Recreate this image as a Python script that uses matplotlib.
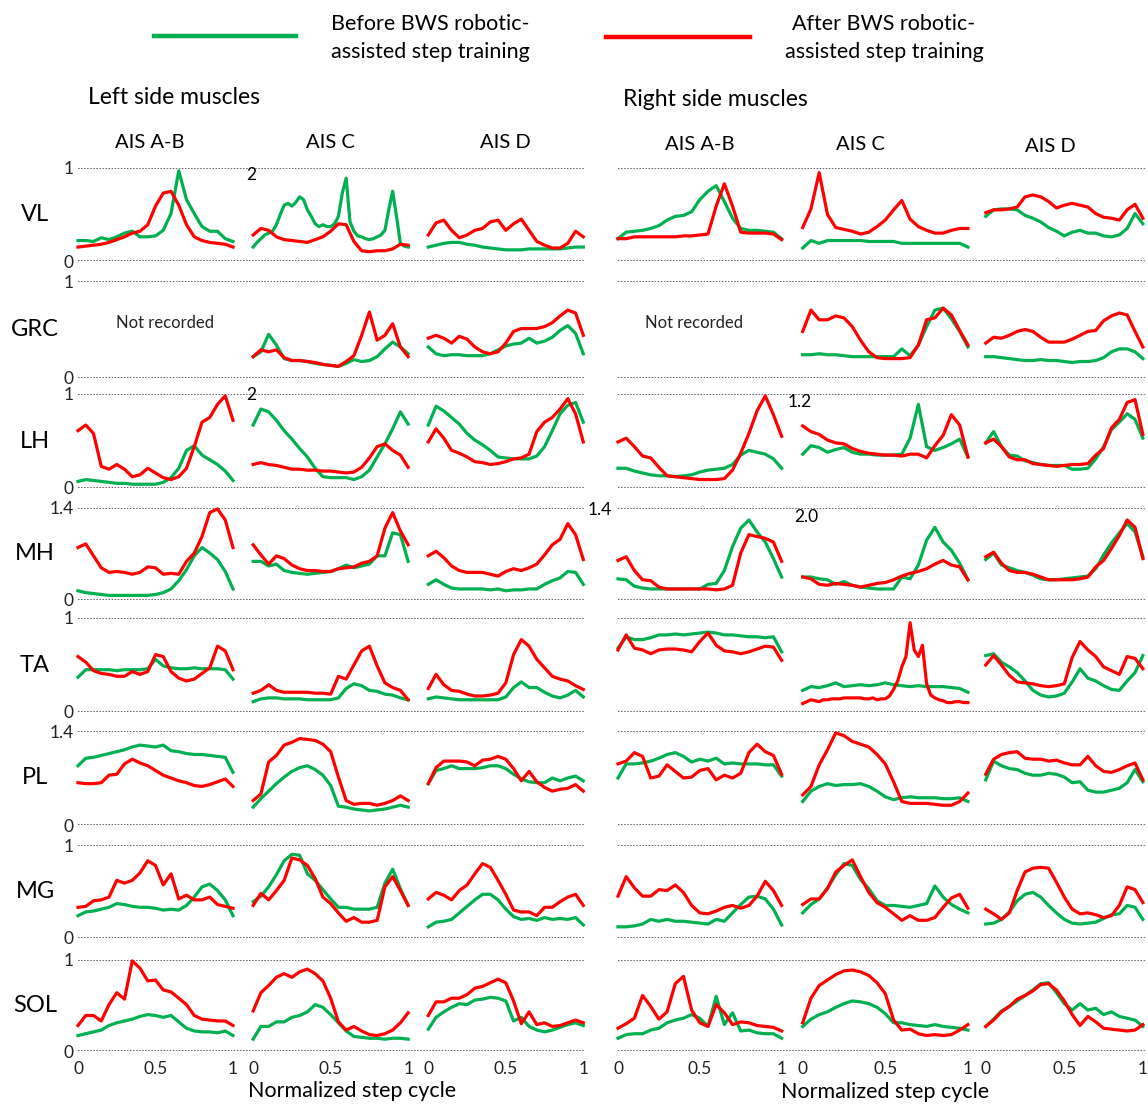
import numpy as np
import matplotlib.pyplot as plt
from matplotlib.lines import Line2D

plt.rcParams['font.family'] = ['Lato', 'DejaVu Sans']

# normalized EMG envelopes, fraction of each row's full scale (0 = lower dotted line, 1 = upper)
# order of the six curves: left AIS A-B, AIS C, AIS D, right AIS A-B, AIS C, AIS D
muscles = ['VL', 'GRC', 'LH', 'MH', 'TA', 'PL', 'MG', 'SOL']
groups = ['AIS A-B', 'AIS C', 'AIS D']
left_scale = ['1', '1', '1', '1.4', '1', '1.4', '1', '1']
step_ticks = [0, 0.5, 1]
step_ticklabels = ['0', '0.5', '1']

VL_before = [
    [0.22, 0.22, 0.21, 0.25, 0.23, 0.26, 0.30, 0.32, 0.26, 0.26, 0.27, 0.33, 0.51, 0.97, 0.66, 0.51, 0.37, 0.32, 0.32, 0.24, 0.21],
    [0.15, 0.20, 0.24, 0.28, 0.30, 0.32, 0.39, 0.50, 0.60, 0.62, 0.59, 0.63, 0.69, 0.66, 0.55, 0.48, 0.40, 0.37, 0.39, 0.37, 0.37,
     0.40, 0.48, 0.73, 0.89, 0.42, 0.32, 0.27, 0.26, 0.24, 0.23, 0.24, 0.26, 0.28, 0.33, 0.55, 0.75, 0.48, 0.19, 0.16, 0.15],
    [0.15, 0.17, 0.19, 0.20, 0.20, 0.18, 0.17, 0.15, 0.14, 0.13, 0.12, 0.12, 0.12, 0.13, 0.13, 0.13, 0.13, 0.13, 0.14, 0.15, 0.15],
    [0.24, 0.31, 0.32, 0.33, 0.35, 0.38, 0.44, 0.48, 0.49, 0.53, 0.66, 0.75, 0.81, 0.64, 0.46, 0.35, 0.33, 0.33, 0.32, 0.31, 0.24],
    [0.14, 0.22, 0.19, 0.22, 0.22, 0.22, 0.22, 0.22, 0.21, 0.21, 0.21, 0.21, 0.19, 0.19, 0.19, 0.19, 0.19, 0.19, 0.19, 0.19, 0.15],
    [0.48, 0.55, 0.56, 0.56, 0.55, 0.49, 0.46, 0.42, 0.36, 0.32, 0.27, 0.31, 0.33, 0.30, 0.30, 0.27, 0.26, 0.28, 0.35, 0.51, 0.40],
]
VL_after = [
    [0.15, 0.16, 0.17, 0.18, 0.20, 0.23, 0.26, 0.30, 0.32, 0.39, 0.59, 0.73, 0.75, 0.60, 0.39, 0.26, 0.22, 0.20, 0.19, 0.18, 0.15],
    [0.28, 0.35, 0.33, 0.26, 0.23, 0.22, 0.21, 0.20, 0.23, 0.26, 0.32, 0.40, 0.39, 0.21, 0.11, 0.10, 0.11, 0.11, 0.13, 0.18, 0.17],
    [0.28, 0.41, 0.44, 0.33, 0.25, 0.28, 0.33, 0.35, 0.42, 0.44, 0.33, 0.40, 0.45, 0.33, 0.21, 0.17, 0.14, 0.14, 0.19, 0.32, 0.26],
    [0.24, 0.24, 0.26, 0.26, 0.26, 0.26, 0.26, 0.26, 0.27, 0.27, 0.28, 0.29, 0.59, 0.83, 0.59, 0.31, 0.30, 0.30, 0.30, 0.29, 0.23],
    [0.36, 0.56, 0.95, 0.50, 0.36, 0.34, 0.32, 0.29, 0.31, 0.37, 0.44, 0.55, 0.65, 0.45, 0.37, 0.33, 0.30, 0.30, 0.33, 0.35, 0.35],
    [0.52, 0.55, 0.55, 0.56, 0.58, 0.69, 0.71, 0.69, 0.64, 0.57, 0.60, 0.62, 0.60, 0.58, 0.51, 0.47, 0.46, 0.44, 0.55, 0.61, 0.46],
]

GRC_before = [
    None,
    [0.22, 0.27, 0.45, 0.34, 0.20, 0.18, 0.18, 0.17, 0.15, 0.14, 0.13, 0.12, 0.15, 0.19, 0.17, 0.18, 0.22, 0.30, 0.37, 0.32, 0.25],
    [0.32, 0.25, 0.23, 0.24, 0.24, 0.23, 0.23, 0.23, 0.25, 0.29, 0.33, 0.35, 0.36, 0.41, 0.36, 0.38, 0.42, 0.49, 0.54, 0.46, 0.25],
    None,
    [0.24, 0.24, 0.25, 0.24, 0.24, 0.23, 0.22, 0.22, 0.22, 0.22, 0.22, 0.22, 0.30, 0.23, 0.34, 0.53, 0.70, 0.72, 0.61, 0.48, 0.32],
    [0.22, 0.22, 0.21, 0.20, 0.19, 0.18, 0.18, 0.19, 0.18, 0.18, 0.17, 0.16, 0.17, 0.17, 0.18, 0.21, 0.27, 0.30, 0.30, 0.27, 0.20],
]
GRC_after = [
    None,
    [0.22, 0.29, 0.27, 0.29, 0.21, 0.18, 0.18, 0.17, 0.16, 0.14, 0.13, 0.12, 0.17, 0.23, 0.44, 0.68, 0.39, 0.44, 0.56, 0.32, 0.22],
    [0.41, 0.44, 0.41, 0.36, 0.43, 0.40, 0.32, 0.27, 0.25, 0.27, 0.36, 0.48, 0.51, 0.51, 0.51, 0.53, 0.57, 0.64, 0.70, 0.67, 0.44],
    None,
    [0.48, 0.70, 0.60, 0.60, 0.64, 0.62, 0.53, 0.39, 0.27, 0.21, 0.20, 0.20, 0.20, 0.21, 0.34, 0.60, 0.62, 0.72, 0.65, 0.49, 0.34],
    [0.36, 0.42, 0.41, 0.44, 0.48, 0.50, 0.48, 0.42, 0.37, 0.37, 0.37, 0.40, 0.44, 0.48, 0.49, 0.59, 0.64, 0.67, 0.65, 0.48, 0.32],
]

LH_before = [
    [0.07, 0.09, 0.08, 0.07, 0.06, 0.05, 0.05, 0.04, 0.04, 0.04, 0.04, 0.06, 0.11, 0.21, 0.40, 0.45, 0.35, 0.30, 0.25, 0.18, 0.08],
    [0.67, 0.84, 0.81, 0.72, 0.61, 0.52, 0.42, 0.33, 0.21, 0.12, 0.11, 0.11, 0.11, 0.09, 0.12, 0.19, 0.33, 0.47, 0.63, 0.81, 0.68],
    [0.67, 0.87, 0.82, 0.75, 0.68, 0.58, 0.51, 0.46, 0.40, 0.33, 0.32, 0.31, 0.31, 0.31, 0.34, 0.44, 0.61, 0.79, 0.88, 0.91, 0.70],
    [0.21, 0.21, 0.18, 0.16, 0.14, 0.13, 0.13, 0.12, 0.13, 0.14, 0.17, 0.19, 0.20, 0.21, 0.25, 0.35, 0.40, 0.38, 0.36, 0.31, 0.21],
    [0.36, 0.45, 0.43, 0.38, 0.41, 0.43, 0.38, 0.36, 0.36, 0.35, 0.35, 0.35, 0.36, 0.53, 0.89, 0.44, 0.40, 0.43, 0.47, 0.52, 0.33],
    [0.48, 0.60, 0.44, 0.35, 0.34, 0.29, 0.27, 0.25, 0.24, 0.24, 0.24, 0.20, 0.20, 0.21, 0.31, 0.44, 0.62, 0.70, 0.79, 0.73, 0.53],
]
LH_after = [
    [0.61, 0.67, 0.58, 0.23, 0.20, 0.25, 0.20, 0.12, 0.14, 0.21, 0.16, 0.11, 0.09, 0.12, 0.21, 0.44, 0.70, 0.75, 0.89, 0.98, 0.72],
    [0.25, 0.27, 0.25, 0.24, 0.22, 0.20, 0.20, 0.19, 0.19, 0.18, 0.18, 0.17, 0.16, 0.17, 0.22, 0.32, 0.44, 0.47, 0.40, 0.35, 0.22],
    [0.49, 0.63, 0.53, 0.40, 0.37, 0.33, 0.28, 0.27, 0.25, 0.26, 0.28, 0.31, 0.32, 0.36, 0.60, 0.70, 0.75, 0.84, 0.95, 0.79, 0.49],
    [0.49, 0.53, 0.44, 0.34, 0.32, 0.22, 0.13, 0.12, 0.11, 0.10, 0.09, 0.09, 0.09, 0.10, 0.19, 0.37, 0.58, 0.82, 0.98, 0.78, 0.55],
    [0.66, 0.60, 0.57, 0.51, 0.48, 0.47, 0.42, 0.39, 0.37, 0.36, 0.35, 0.35, 0.34, 0.36, 0.36, 0.32, 0.45, 0.56, 0.78, 0.67, 0.33],
    [0.48, 0.52, 0.44, 0.33, 0.30, 0.30, 0.26, 0.25, 0.24, 0.23, 0.24, 0.25, 0.25, 0.26, 0.35, 0.42, 0.64, 0.73, 0.91, 0.94, 0.57],
]

MH_before = [
    [0.10, 0.08, 0.07, 0.06, 0.05, 0.05, 0.05, 0.05, 0.05, 0.05, 0.06, 0.08, 0.12, 0.21, 0.33, 0.48, 0.57, 0.51, 0.44, 0.31, 0.12],
    [0.42, 0.42, 0.37, 0.39, 0.32, 0.30, 0.29, 0.28, 0.29, 0.30, 0.31, 0.34, 0.38, 0.35, 0.37, 0.39, 0.48, 0.48, 0.73, 0.71, 0.42],
    [0.17, 0.22, 0.17, 0.13, 0.12, 0.12, 0.12, 0.12, 0.11, 0.12, 0.10, 0.11, 0.11, 0.12, 0.12, 0.17, 0.21, 0.24, 0.31, 0.30, 0.17],
    [0.23, 0.22, 0.15, 0.13, 0.12, 0.12, 0.12, 0.12, 0.12, 0.12, 0.12, 0.17, 0.18, 0.32, 0.58, 0.78, 0.87, 0.74, 0.63, 0.45, 0.25],
    [0.25, 0.25, 0.23, 0.22, 0.17, 0.20, 0.16, 0.14, 0.13, 0.12, 0.12, 0.12, 0.25, 0.23, 0.38, 0.65, 0.79, 0.63, 0.54, 0.40, 0.22],
    [0.44, 0.51, 0.38, 0.35, 0.32, 0.30, 0.27, 0.23, 0.22, 0.22, 0.23, 0.24, 0.25, 0.26, 0.34, 0.49, 0.62, 0.73, 0.83, 0.74, 0.47],
]
MH_after = [
    [0.57, 0.61, 0.48, 0.35, 0.30, 0.31, 0.30, 0.28, 0.30, 0.36, 0.35, 0.28, 0.29, 0.28, 0.42, 0.51, 0.69, 0.95, 0.99, 0.87, 0.57],
    [0.60, 0.49, 0.39, 0.48, 0.45, 0.38, 0.34, 0.32, 0.32, 0.31, 0.31, 0.34, 0.35, 0.36, 0.40, 0.42, 0.48, 0.78, 0.95, 0.75, 0.60],
    [0.48, 0.53, 0.46, 0.37, 0.32, 0.30, 0.30, 0.30, 0.28, 0.26, 0.31, 0.34, 0.32, 0.35, 0.39, 0.49, 0.60, 0.66, 0.83, 0.71, 0.44],
    [0.43, 0.47, 0.32, 0.22, 0.21, 0.14, 0.12, 0.12, 0.12, 0.12, 0.12, 0.12, 0.11, 0.12, 0.16, 0.51, 0.71, 0.69, 0.67, 0.63, 0.42],
    [0.25, 0.23, 0.17, 0.16, 0.18, 0.17, 0.16, 0.14, 0.16, 0.18, 0.19, 0.22, 0.26, 0.29, 0.31, 0.34, 0.39, 0.43, 0.38, 0.36, 0.22],
    [0.47, 0.52, 0.40, 0.32, 0.30, 0.30, 0.28, 0.25, 0.22, 0.22, 0.22, 0.22, 0.23, 0.25, 0.36, 0.43, 0.56, 0.70, 0.87, 0.79, 0.45],
]

TA_before = [
    [0.37, 0.45, 0.45, 0.45, 0.45, 0.44, 0.45, 0.45, 0.45, 0.46, 0.56, 0.49, 0.47, 0.46, 0.46, 0.47, 0.46, 0.46, 0.46, 0.45, 0.35],
    [0.11, 0.14, 0.15, 0.15, 0.14, 0.14, 0.14, 0.13, 0.13, 0.13, 0.13, 0.15, 0.25, 0.30, 0.28, 0.23, 0.22, 0.19, 0.18, 0.15, 0.13],
    [0.14, 0.16, 0.15, 0.14, 0.13, 0.13, 0.13, 0.13, 0.13, 0.13, 0.16, 0.26, 0.32, 0.26, 0.26, 0.21, 0.17, 0.15, 0.18, 0.23, 0.16],
    [0.68, 0.80, 0.77, 0.77, 0.79, 0.82, 0.82, 0.83, 0.82, 0.83, 0.84, 0.85, 0.84, 0.82, 0.82, 0.81, 0.80, 0.80, 0.79, 0.80, 0.64],
    [0.23, 0.27, 0.26, 0.28, 0.31, 0.27, 0.28, 0.29, 0.28, 0.29, 0.31, 0.29, 0.28, 0.27, 0.28, 0.27, 0.27, 0.27, 0.26, 0.25, 0.21],
    [0.60, 0.62, 0.53, 0.48, 0.42, 0.33, 0.23, 0.18, 0.16, 0.17, 0.20, 0.32, 0.46, 0.36, 0.33, 0.28, 0.24, 0.23, 0.33, 0.42, 0.60],
]
TA_after = [
    [0.59, 0.53, 0.44, 0.41, 0.40, 0.38, 0.38, 0.43, 0.40, 0.43, 0.61, 0.59, 0.43, 0.36, 0.33, 0.35, 0.41, 0.47, 0.70, 0.65, 0.45],
    [0.20, 0.23, 0.29, 0.23, 0.21, 0.21, 0.21, 0.21, 0.20, 0.20, 0.19, 0.38, 0.35, 0.50, 0.65, 0.70, 0.49, 0.31, 0.26, 0.23, 0.13],
    [0.25, 0.40, 0.29, 0.23, 0.22, 0.19, 0.17, 0.17, 0.18, 0.20, 0.31, 0.61, 0.77, 0.70, 0.56, 0.47, 0.38, 0.35, 0.33, 0.28, 0.24],
    [0.66, 0.82, 0.68, 0.66, 0.62, 0.66, 0.67, 0.67, 0.66, 0.64, 0.75, 0.84, 0.71, 0.65, 0.64, 0.62, 0.64, 0.67, 0.70, 0.69, 0.55],
    [0.09, 0.11, 0.13, 0.12, 0.11, 0.13, 0.13, 0.14, 0.14, 0.14, 0.15, 0.15, 0.15, 0.15, 0.15, 0.14, 0.14, 0.15, 0.13, 0.14, 0.14,
     0.17, 0.24, 0.33, 0.48, 0.59, 0.95, 0.66, 0.59, 0.71, 0.30, 0.18, 0.15, 0.13, 0.12, 0.10, 0.10, 0.11, 0.11, 0.10, 0.10],
    [0.50, 0.60, 0.50, 0.39, 0.32, 0.31, 0.30, 0.28, 0.27, 0.28, 0.30, 0.58, 0.75, 0.66, 0.59, 0.48, 0.44, 0.40, 0.59, 0.57, 0.46],
]

PL_before = [
    [0.63, 0.71, 0.72, 0.74, 0.76, 0.78, 0.80, 0.83, 0.85, 0.84, 0.83, 0.85, 0.79, 0.78, 0.76, 0.75, 0.75, 0.74, 0.73, 0.72, 0.56],
    [0.19, 0.28, 0.36, 0.44, 0.51, 0.57, 0.61, 0.63, 0.59, 0.53, 0.42, 0.20, 0.19, 0.17, 0.16, 0.15, 0.16, 0.17, 0.19, 0.21, 0.19],
    [0.44, 0.58, 0.60, 0.63, 0.60, 0.60, 0.60, 0.61, 0.63, 0.63, 0.60, 0.54, 0.49, 0.46, 0.45, 0.45, 0.50, 0.47, 0.50, 0.52, 0.47],
    [0.50, 0.65, 0.65, 0.66, 0.68, 0.71, 0.75, 0.77, 0.73, 0.67, 0.70, 0.68, 0.71, 0.65, 0.66, 0.65, 0.65, 0.65, 0.64, 0.64, 0.52],
    [0.25, 0.36, 0.41, 0.44, 0.42, 0.43, 0.43, 0.44, 0.41, 0.36, 0.30, 0.27, 0.29, 0.30, 0.29, 0.29, 0.29, 0.28, 0.28, 0.29, 0.25],
    [0.48, 0.68, 0.63, 0.60, 0.59, 0.55, 0.53, 0.53, 0.55, 0.54, 0.51, 0.45, 0.46, 0.37, 0.35, 0.35, 0.37, 0.39, 0.45, 0.59, 0.46],
]
PL_after = [
    [0.45, 0.44, 0.44, 0.45, 0.53, 0.54, 0.65, 0.70, 0.66, 0.63, 0.58, 0.53, 0.50, 0.47, 0.45, 0.42, 0.41, 0.43, 0.46, 0.49, 0.41],
    [0.26, 0.33, 0.67, 0.74, 0.85, 0.88, 0.92, 0.91, 0.90, 0.86, 0.78, 0.51, 0.26, 0.22, 0.23, 0.23, 0.21, 0.23, 0.26, 0.31, 0.26],
    [0.44, 0.61, 0.68, 0.68, 0.68, 0.67, 0.63, 0.69, 0.70, 0.73, 0.70, 0.60, 0.47, 0.57, 0.46, 0.40, 0.36, 0.38, 0.39, 0.43, 0.36],
    [0.65, 0.68, 0.77, 0.73, 0.50, 0.52, 0.64, 0.57, 0.50, 0.51, 0.58, 0.60, 0.48, 0.53, 0.50, 0.55, 0.77, 0.86, 0.78, 0.74, 0.54],
    [0.32, 0.41, 0.64, 0.80, 0.98, 0.95, 0.89, 0.86, 0.83, 0.75, 0.65, 0.46, 0.25, 0.23, 0.23, 0.23, 0.22, 0.21, 0.21, 0.25, 0.34],
    [0.54, 0.70, 0.75, 0.77, 0.78, 0.71, 0.70, 0.70, 0.68, 0.69, 0.66, 0.64, 0.64, 0.73, 0.63, 0.57, 0.56, 0.59, 0.63, 0.66, 0.48],
]

MG_before = [
    [0.24, 0.28, 0.29, 0.31, 0.33, 0.37, 0.36, 0.34, 0.33, 0.33, 0.32, 0.30, 0.31, 0.30, 0.35, 0.44, 0.55, 0.58, 0.51, 0.41, 0.24],
    [0.39, 0.45, 0.55, 0.68, 0.83, 0.90, 0.89, 0.69, 0.62, 0.52, 0.42, 0.33, 0.33, 0.31, 0.31, 0.31, 0.33, 0.59, 0.74, 0.53, 0.35],
    [0.12, 0.17, 0.18, 0.20, 0.27, 0.34, 0.41, 0.47, 0.47, 0.41, 0.31, 0.23, 0.20, 0.21, 0.19, 0.22, 0.20, 0.21, 0.20, 0.22, 0.14],
    [0.12, 0.12, 0.13, 0.15, 0.20, 0.18, 0.20, 0.18, 0.18, 0.17, 0.16, 0.15, 0.20, 0.18, 0.27, 0.36, 0.44, 0.45, 0.42, 0.31, 0.14],
    [0.27, 0.36, 0.42, 0.54, 0.68, 0.80, 0.78, 0.63, 0.53, 0.40, 0.35, 0.35, 0.34, 0.33, 0.35, 0.37, 0.56, 0.44, 0.36, 0.31, 0.27],
    [0.15, 0.16, 0.20, 0.28, 0.40, 0.47, 0.49, 0.44, 0.35, 0.27, 0.20, 0.16, 0.15, 0.16, 0.17, 0.21, 0.25, 0.26, 0.35, 0.33, 0.20],
]
MG_after = [
    [0.33, 0.34, 0.40, 0.41, 0.44, 0.62, 0.59, 0.62, 0.70, 0.83, 0.78, 0.57, 0.69, 0.42, 0.46, 0.41, 0.41, 0.44, 0.36, 0.34, 0.32],
    [0.35, 0.48, 0.41, 0.51, 0.62, 0.86, 0.84, 0.78, 0.64, 0.44, 0.37, 0.27, 0.18, 0.22, 0.17, 0.17, 0.19, 0.55, 0.66, 0.51, 0.35],
    [0.42, 0.49, 0.46, 0.41, 0.51, 0.57, 0.69, 0.80, 0.76, 0.62, 0.47, 0.30, 0.28, 0.28, 0.24, 0.33, 0.33, 0.39, 0.44, 0.47, 0.35],
    [0.45, 0.66, 0.54, 0.45, 0.45, 0.52, 0.51, 0.57, 0.49, 0.35, 0.27, 0.26, 0.29, 0.33, 0.35, 0.32, 0.35, 0.45, 0.61, 0.51, 0.35],
    [0.36, 0.42, 0.42, 0.53, 0.71, 0.78, 0.84, 0.66, 0.49, 0.38, 0.33, 0.26, 0.19, 0.24, 0.19, 0.19, 0.22, 0.33, 0.43, 0.47, 0.32],
    [0.31, 0.26, 0.20, 0.27, 0.51, 0.71, 0.75, 0.76, 0.75, 0.60, 0.44, 0.31, 0.26, 0.27, 0.25, 0.22, 0.24, 0.35, 0.55, 0.52, 0.38],
]

SOL_before = [
    [0.17, 0.19, 0.21, 0.23, 0.28, 0.31, 0.33, 0.35, 0.38, 0.40, 0.39, 0.37, 0.39, 0.32, 0.25, 0.22, 0.21, 0.21, 0.20, 0.22, 0.17],
    [0.13, 0.27, 0.27, 0.32, 0.32, 0.37, 0.39, 0.43, 0.51, 0.48, 0.40, 0.31, 0.22, 0.16, 0.15, 0.14, 0.14, 0.13, 0.14, 0.14, 0.13],
    [0.24, 0.37, 0.43, 0.48, 0.52, 0.51, 0.56, 0.57, 0.59, 0.58, 0.55, 0.33, 0.37, 0.27, 0.23, 0.21, 0.23, 0.26, 0.29, 0.31, 0.28],
    [0.14, 0.18, 0.19, 0.19, 0.23, 0.25, 0.31, 0.34, 0.36, 0.40, 0.36, 0.27, 0.60, 0.29, 0.42, 0.22, 0.23, 0.20, 0.19, 0.19, 0.14],
    [0.27, 0.35, 0.40, 0.43, 0.48, 0.52, 0.55, 0.54, 0.52, 0.48, 0.41, 0.31, 0.31, 0.29, 0.28, 0.27, 0.29, 0.27, 0.26, 0.25, 0.23],
    [0.27, 0.35, 0.44, 0.49, 0.55, 0.61, 0.67, 0.74, 0.75, 0.64, 0.52, 0.45, 0.52, 0.45, 0.47, 0.40, 0.43, 0.38, 0.36, 0.34, 0.27],
]
SOL_after = [
    [0.28, 0.39, 0.39, 0.33, 0.51, 0.64, 0.57, 0.99, 0.91, 0.77, 0.78, 0.67, 0.65, 0.58, 0.51, 0.39, 0.35, 0.34, 0.33, 0.33, 0.28],
    [0.44, 0.64, 0.72, 0.81, 0.85, 0.81, 0.87, 0.90, 0.85, 0.77, 0.58, 0.32, 0.23, 0.27, 0.22, 0.18, 0.17, 0.19, 0.23, 0.31, 0.42],
    [0.39, 0.54, 0.54, 0.58, 0.58, 0.62, 0.69, 0.71, 0.75, 0.79, 0.75, 0.55, 0.30, 0.43, 0.29, 0.31, 0.27, 0.28, 0.31, 0.34, 0.31],
    [0.25, 0.30, 0.36, 0.61, 0.49, 0.35, 0.43, 0.74, 0.82, 0.45, 0.31, 0.27, 0.51, 0.42, 0.29, 0.32, 0.31, 0.28, 0.27, 0.26, 0.22],
    [0.31, 0.58, 0.72, 0.78, 0.84, 0.88, 0.89, 0.87, 0.83, 0.75, 0.63, 0.34, 0.23, 0.24, 0.19, 0.17, 0.18, 0.17, 0.18, 0.23, 0.29],
    [0.27, 0.34, 0.43, 0.49, 0.57, 0.61, 0.66, 0.73, 0.74, 0.67, 0.55, 0.40, 0.28, 0.38, 0.32, 0.25, 0.24, 0.23, 0.22, 0.23, 0.29],
]

before = [VL_before, GRC_before, LH_before, MH_before, TA_before, PL_before, MG_before, SOL_before]
after = [VL_after, GRC_after, LH_after, MH_after, TA_after, PL_after, MG_after, SOL_after]

GREEN = '#00b050'
RED = '#ff0000'
DOT = '#3a3a3a'

W, H = 1148.0, 1105.0
fig = plt.figure(figsize=(W / 100, H / 100), dpi=100)

# layout in pixels
row_top = [168, 281, 394, 508, 618, 731, 845, 960]
row_bot = [261, 378, 488, 600, 712, 825, 938, 1051]
sides = [
    dict(x0=78, unit=155, offs=[0, 1.13, 2.26], widths=[1.0, 1.0, 1.0], xmax=3.27),
    dict(x0=618, unit=162, offs=[0, 1.14, 2.27], widths=[1.01, 1.02, 0.97], xmax=3.25),
]


def ftxt(x, y, s, **kw):
    fig.text(x / W, 1 - y / H, s, **kw)


axes = {}
for r, name in enumerate(muscles):
    for s, side in enumerate(sides):
        ax = fig.add_axes([side['x0'] / W, 1 - row_bot[r] / H,
                           side['xmax'] * side['unit'] / W, (row_bot[r] - row_top[r]) / H])
        ax.set_xlim(0, side['xmax'])
        ax.set_ylim(0, 1)
        for sp in ax.spines.values():
            sp.set_visible(False)
        ax.patch.set_alpha(0)
        ax.tick_params(length=0, labelsize=12.5, colors='#222222')
        ax.axhline(0, color=DOT, lw=1.1, ls=(0, (1, 1)))
        ax.axhline(1, color=DOT, lw=1.1, ls=(0, (1, 1)))

        for k in range(3):
            off = side['offs'][k]
            wid = side['widths'][k]
            g = before[r][s * 3 + k]
            a = after[r][s * 3 + k]
            if g is None:
                ax.text(off + (0.56 if s == 0 else 0.47), 0.57, 'Not recorded',
                        ha='center', va='center', fontsize=12, color='#222222')
                continue
            ax.plot(off + wid * np.linspace(0, 1, len(g)), g, color=GREEN, lw=2.3,
                    solid_joinstyle='round', clip_on=False)
            ax.plot(off + wid * np.linspace(0, 1, len(a)), a, color=RED, lw=2.3,
                    solid_joinstyle='round', clip_on=False)

        if s == 0:
            ax.set_yticks([0, 1])
            ax.set_yticklabels(['0', left_scale[r]])
            ax.tick_params(axis='y', pad=3)
        else:
            ax.set_yticks([])

        if r == len(muscles) - 1:
            xt, xl = [], []
            for off, wid in zip(side['offs'], side['widths']):
                xt += [off + wid * t for t in step_ticks]
                xl += step_ticklabels
            ax.set_xticks(xt)
            ax.set_xticklabels(xl)
            ax.tick_params(axis='x', pad=7)
        else:
            ax.set_xticks([])
        axes[(r, s)] = ax

# extra scale labels inside the grid
axes[(0, 0)].text(1.12, 0.93, '2', ha='center', va='center', fontsize=12.5)
axes[(2, 0)].text(1.12, 0.99, '2', ha='center', va='center', fontsize=12.5)
axes[(2, 1)].text(1.12, 0.91, '1.2', ha='center', va='center', fontsize=12.5)
axes[(3, 1)].text(-0.11, 0.98, '1.4', ha='center', va='center', fontsize=12.5)
axes[(3, 1)].text(1.16, 0.90, '2.0', ha='center', va='center', fontsize=12.5)

# muscle names
for r, name in enumerate(muscles):
    ftxt(35, (row_top[r] + row_bot[r]) / 2, name, ha='center', va='center', fontsize=17)

# headers
ftxt(88, 97, 'Left side muscles', ha='left', va='center', fontsize=16.5)
ftxt(623, 99, 'Right side muscles', ha='left', va='center', fontsize=16.5)
for x, g in zip([150, 330, 505], groups):
    ftxt(x, 143, g, ha='center', va='center', fontsize=14.5)
for x, y, g in zip([700, 860, 1050], [145, 145, 147], groups):
    ftxt(x, y, g, ha='center', va='center', fontsize=14.5)

# legend
fig.add_artist(Line2D([154 / W, 296 / W], [1 - 36 / H, 1 - 36 / H], color=GREEN, lw=3.2))
fig.add_artist(Line2D([606 / W, 750 / W], [1 - 37 / H, 1 - 37 / H], color=RED, lw=3.2))
ftxt(430, 38, 'Before BWS robotic-\nassisted step training', ha='center', va='center',
     fontsize=15.5, linespacing=1.5)
ftxt(884, 38, 'After BWS robotic-\nassisted step training', ha='center', va='center',
     fontsize=15.5, linespacing=1.5)

# x axis titles
ftxt(352, 1091, 'Normalized step cycle', ha='center', va='center', fontsize=15.5)
ftxt(885, 1092, 'Normalized step cycle', ha='center', va='center', fontsize=15.5)

fig.savefig('out.png', dpi=100)
